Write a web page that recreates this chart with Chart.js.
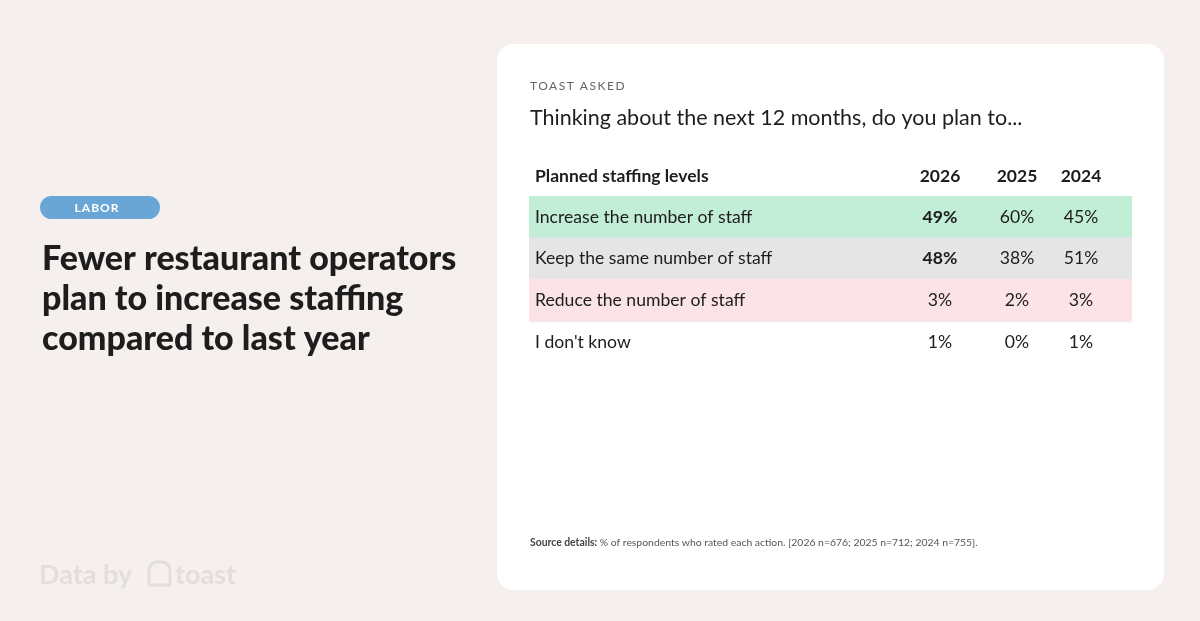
<!DOCTYPE html>
<html><head><meta charset="utf-8">
<script src="https://cdn.jsdelivr.net/npm/chart.js@4"></script>
<style>html,body{margin:0;padding:0;background:#f5f0ed;}#c{display:block;}</style>
</head><body>
<canvas id="c" width="1200" height="621"></canvas>
<script>
const categories = ["Increase the number of staff","Keep the same number of staff","Reduce the number of staff","I don't know"];
const years = ["2026","2025","2024"];
const values2026 = [49,48,3,1];
const values2025 = [60,38,2,0];
const values2024 = [45,51,3,1];
const rowColors = ["#c2edd6","#e5e5e5","#fbe3e7","rgba(255,255,255,0)"];

const FONT = "Lato, 'Open Sans', sans-serif";
const colX = [940,1017,1081];

const decor = {
  id:'decor',
  beforeDraw(chart){
    const ctx = chart.ctx;
    ctx.save();
    ctx.fillStyle = '#f5f0ed'; ctx.fillRect(0,0,1200,621);
    ctx.fillStyle = '#ffffff';
    ctx.beginPath(); ctx.roundRect(497,44,667,546,16); ctx.fill();
    ctx.fillStyle = '#6aa6d5';
    ctx.beginPath(); ctx.roundRect(40,196,120,23,11.5); ctx.fill();
    ctx.fillStyle = '#fff'; ctx.font = `bold 12px ${FONT}`; ctx.textAlign='center'; ctx.textBaseline='middle';
    ctx.letterSpacing = '1px';
    ctx.fillText('LABOR',97,208);
    ctx.letterSpacing = '0px';
    ctx.fillStyle = '#1d1d1d'; ctx.font = `900 34px ${FONT}`; ctx.textAlign='left';
    ['Fewer restaurant operators','plan to increase staffing','compared to last year'].forEach((t,i)=>ctx.fillText(t,42,259+i*40));
    ctx.fillStyle = '#e4dedb'; ctx.font = `bold 27px ${FONT}`;
    ctx.fillText('Data by',39,575);
    ctx.strokeStyle = '#e4dedb'; ctx.lineWidth = 3;
    ctx.beginPath(); ctx.roundRect(149,562,21,23,[8,8,2,2]); ctx.stroke();
    ctx.fillText('toast',175,575);
    ctx.fillStyle = '#666'; ctx.font = `12px ${FONT}`; ctx.letterSpacing='1.5px';
    ctx.fillText('TOAST ASKED',530,86);
    ctx.letterSpacing='0px';
    ctx.fillStyle = '#1d1d1d'; ctx.font = `21.5px ${FONT}`;
    ctx.fillText('Thinking about the next 12 months, do you plan to...',530,118);
    ctx.font = `bold 17.5px ${FONT}`;
    ctx.fillText('Planned staffing levels',535,176);
    ctx.textAlign='center';
    years.forEach((y,i)=>ctx.fillText(y,colX[i],176));
    ctx.textAlign='left'; ctx.fillStyle='#444'; ctx.font = `bold 10.4px ${FONT}`;
    const s1='Source details: ';
    ctx.fillText(s1,530,543);
    const w=ctx.measureText(s1).width;
    ctx.font = `10.4px ${FONT}`; ctx.fillStyle='#555';
    ctx.fillText('% of respondents who rated each action. [2026 n=676; 2025 n=712; 2024 n=755].',530+w,543);
    ctx.restore();
  },
  afterDatasetsDraw(chart){
    const ctx = chart.ctx, y = chart.scales.y, a = chart.chartArea;
    ctx.save();
    const sep = (y.getPixelForValue(2)+y.getPixelForValue(3))/2;
    ctx.strokeStyle='#e8e8e8'; ctx.lineWidth=1;
    ctx.beginPath(); ctx.moveTo(a.left,sep+0.5); ctx.lineTo(a.right,sep+0.5); ctx.stroke();
    ctx.textBaseline='middle'; ctx.fillStyle='#1d1d1d';
    const cols=[values2026,values2025,values2024];
    categories.forEach((c,i)=>{
      const py=y.getPixelForValue(i);
      ctx.font=`17.6px ${FONT}`; ctx.textAlign='left';
      ctx.fillText(c,535,py);
      cols.forEach((vals,j)=>{
        ctx.font = (j===0 && i<2) ? `bold 17.6px ${FONT}` : `17.6px ${FONT}`;
        ctx.textAlign='center';
        ctx.fillText(vals[i]+'%',colX[j],py);
      });
    });
    ctx.restore();
  }
};

new Chart(document.getElementById('c'),{
  type:'bar',
  data:{labels:categories,datasets:[{data:categories.map(()=>[0,1]),backgroundColor:rowColors,barPercentage:1,categoryPercentage:1,borderWidth:0}]},
  options:{
    indexAxis:'y',responsive:false,animation:false,
    layout:{padding:{left:529,right:68,top:196,bottom:258}},
    scales:{x:{display:false,min:0,max:1},y:{display:false}},
    plugins:{legend:{display:false},tooltip:{enabled:false}}
  },
  plugins:[decor]
});
</script>
</body></html>
